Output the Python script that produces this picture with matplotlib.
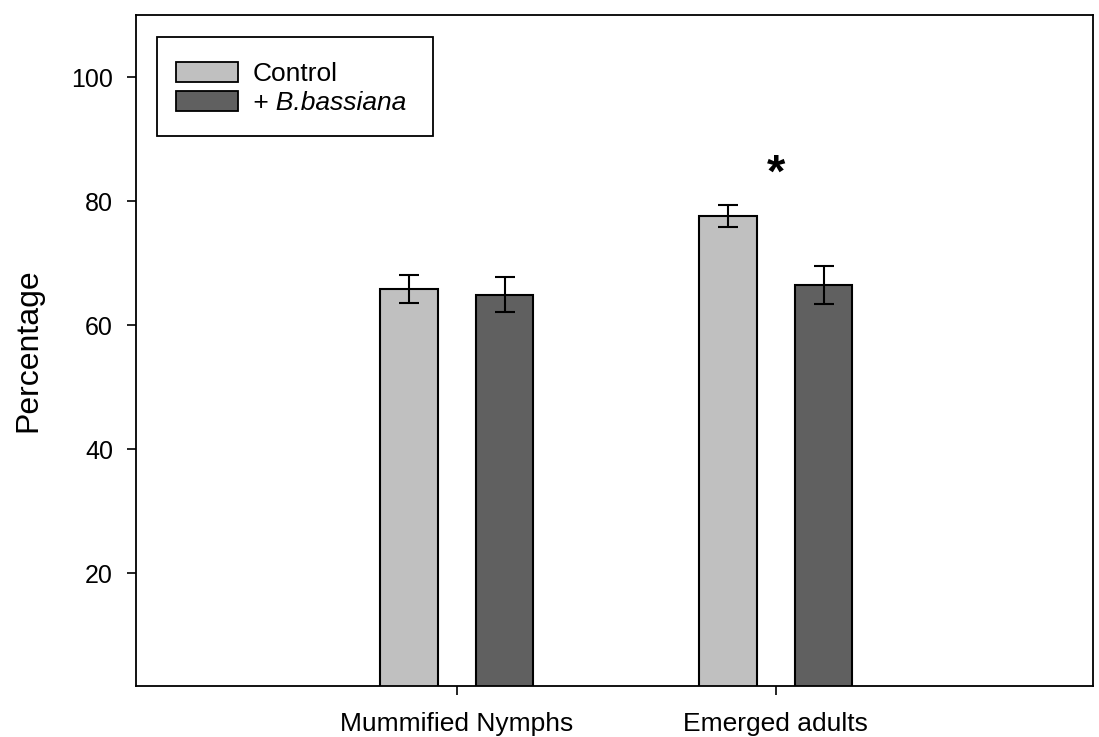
import numpy as np
import matplotlib.pyplot as plt
from matplotlib.patches import Patch, Rectangle

plt.rcParams['font.family'] = ['Liberation Sans', 'DejaVu Sans']

categories = ['Mummified Nymphs', 'Emerged adults']
control = [65.8, 77.6]
control_err = [2.3, 1.8]
bassiana = [64.9, 66.5]
bassiana_err = [2.8, 3.1]
series_labels = ['Control', '+ B.bassiana']

x = np.arange(len(categories))
width = 0.18
offset = 0.15

W, H = 1099, 737
fig = plt.figure(figsize=(W / 100, H / 100), dpi=100)
ax = fig.add_axes([136 / W, 1 - 686 / H, (1093 - 136) / W, (686 - 15) / H])

err_kw = dict(elinewidth=1.5, capthick=1.5, capsize=7.5, ecolor='black')
ax.bar(x - offset, control, width, yerr=control_err, color='#c0c0c0',
       edgecolor='black', linewidth=1.5, error_kw=err_kw, zorder=2)
ax.bar(x + offset, bassiana, width, yerr=bassiana_err, color='#606060',
       edgecolor='black', linewidth=1.5, error_kw=err_kw, zorder=2)

# significance marker
ax.text(x[1], 84.2, '*', ha='center', va='center', fontsize=34, fontweight='bold')

ax.set_xlim(-1.006, 1.994)
ax.set_ylim(1.8, 110)
ax.set_yticks([20, 40, 60, 80, 100])
ax.set_xticks(x)
ax.set_xticklabels(categories)
ax.tick_params(direction='out', length=6.5, width=1.2, labelsize=19)
ax.tick_params(axis='y', pad=10, labelsize=18)
ax.tick_params(axis='x', pad=12)
for s in ax.spines.values():
    s.set_linewidth(1.3)
ax.set_ylabel('Percentage', fontsize=23)
ax.yaxis.set_label_coords((43 - 136) / 957, 0.5)

# legend entries without frame, frame drawn separately
handles = [Patch(facecolor='#c0c0c0', edgecolor='black', linewidth=1.3),
           Patch(facecolor='#606060', edgecolor='black', linewidth=1.3)]
leg = ax.legend(handles, series_labels, loc='upper left',
                bbox_to_anchor=((176 - 136) / 957, (686 - 62) / 671),
                fontsize=19, frameon=False,
                handlelength=2.35, handleheight=0.76, labelspacing=0.2,
                borderpad=0, handletextpad=0.55, borderaxespad=0)
leg.get_texts()[1].set_fontstyle('italic')
ax.add_patch(Rectangle(((157 - 136) / 957, (686 - 136) / 671), 276 / 957, 99 / 671,
                       transform=ax.transAxes, fill=False, edgecolor='black',
                       linewidth=1.3, zorder=5))

fig.savefig('out.png', dpi=100)
